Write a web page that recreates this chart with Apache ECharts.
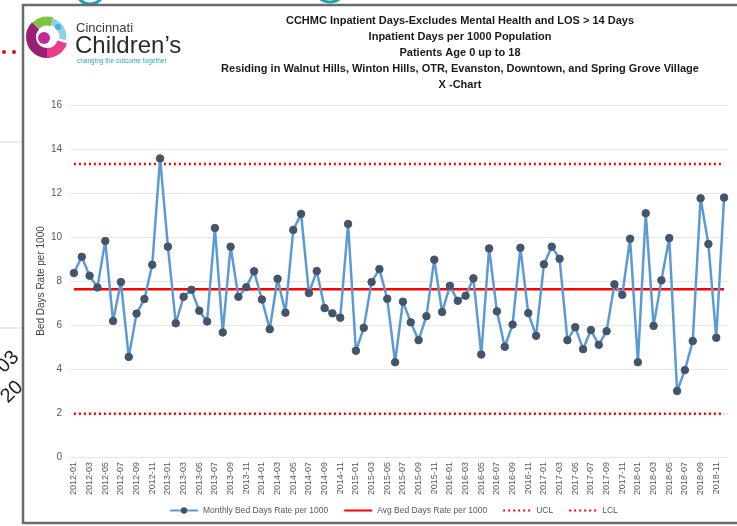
<!DOCTYPE html>
<html>
<head>
<meta charset="utf-8">
<script src="https://cdn.jsdelivr.net/npm/echarts@6/dist/echarts.min.js"></script>
<style>
  html, body { margin: 0; padding: 0; background: #fff; }
  #chart { width: 737px; height: 526px; }
</style>
</head>
<body>
<div id="chart"></div>
<script>
// months 2012-01 .. 2018-12
const years = ['2012', '2013', '2014', '2015', '2016', '2017', '2018']
const monthNums = ['01', '02', '03', '04', '05', '06', '07', '08', '09', '10', '11', '12']
const months = []
years.forEach(y => monthNums.forEach(m => months.push(y + '-' + m)))

// monthly bed days rate per 1000
const monthlyRate = [
  8.36, 9.10, 8.24, 7.71, 9.82, 6.18, 7.95, 4.55, 6.52, 7.18, 8.74, 13.57,
  9.56, 6.08, 7.28, 7.60, 6.65, 6.16, 10.41, 5.66, 9.56, 7.28, 7.72, 8.44,
  7.16, 5.81, 8.10, 6.56, 10.32, 11.05, 7.45, 8.45, 6.77, 6.53, 6.33, 10.59,
  4.83, 5.87, 7.95, 8.54, 7.19, 4.31, 7.06, 6.12, 5.31, 6.40, 8.97, 6.59,
  7.78, 7.10, 7.33, 8.12, 4.66, 9.48, 6.62, 5.01, 6.02, 9.51, 6.54, 5.51,
  8.76, 9.56, 9.01, 5.31, 5.90, 4.90, 5.77, 5.10, 5.72, 7.85, 7.37, 9.92,
  4.31, 11.08, 5.96, 8.03, 9.95, 3.00, 3.95, 5.27, 11.76, 9.68, 5.42, 11.79
]

const avgRate = 7.63
const ucl = 13.32
const lcl = 1.97

const titleLines = [
  'CCHMC Inpatient Days-Excludes Mental Health and LOS > 14 Days',
  'Inpatient Days per 1000 Population',
  'Patients Age 0 up to 18',
  'Residing in Walnut Hills, Winton Hills, OTR, Evanston, Downtown, and Spring Grove Village',
  'X -Chart'
]

const seriesNames = ['Monthly Bed Days Rate per 1000', 'Avg Bed Days Rate per 1000', 'UCL', 'LCL']

const chart = echarts.init(document.getElementById('chart'))
const font = '"Liberation Sans Narrow", "Liberation Sans", sans-serif'
const textColor = '#595959'

const flat = v => months.map(() => v)

const option = {
  animation: false,
  textStyle: { fontFamily: font },
  graphic: [
    // background bits of the slide behind the screenshot
    { type: 'arc', shape: { cx: 90, cy: -10, r: 14, startAngle: 0, endAngle: Math.PI }, style: { stroke: '#1aa3b5', lineWidth: 3, fill: null } },
    { type: 'arc', shape: { cx: 330, cy: -14, r: 16, startAngle: 0.3, endAngle: Math.PI - 0.3 }, style: { stroke: '#1aa3b5', lineWidth: 3, fill: null } },
    { type: 'circle', shape: { cx: 4, cy: 52, r: 2 }, style: { fill: '#e01010' } },
    { type: 'circle', shape: { cx: 14, cy: 52, r: 2 }, style: { fill: '#e01010' } },
    { type: 'line', shape: { x1: 0, y1: 142, x2: 22, y2: 142 }, style: { stroke: '#d8d8d8', lineWidth: 1 } },
    { type: 'line', shape: { x1: 0, y1: 328, x2: 22, y2: 328 }, style: { stroke: '#d8d8d8', lineWidth: 1 } },
    { type: 'text', x: 8, y: 362, rotation: Math.PI / 4, style: { text: '03', fontSize: 20, fill: '#222', align: 'center', verticalAlign: 'middle' } },
    { type: 'text', x: 12, y: 392, rotation: Math.PI / 4, style: { text: '20', fontSize: 20, fill: '#222', align: 'center', verticalAlign: 'middle' } },
    // frame of the screenshot
    { type: 'rect', shape: { x: 23, y: 5, width: 760, height: 518 }, style: { fill: null, stroke: '#6b6b6b', lineWidth: 2.5 } },
    // logo
    { type: 'arc', shape: { cx: 47, cy: 37, r: 16, startAngle: Math.PI * 0.45, endAngle: Math.PI * 1.25 }, style: { stroke: '#9b1d74', lineWidth: 10, fill: null } },
    { type: 'arc', shape: { cx: 47, cy: 37, r: 16, startAngle: Math.PI * 0.1, endAngle: Math.PI * 0.5 }, style: { stroke: '#e83e8c', lineWidth: 10, fill: null } },
    { type: 'arc', shape: { cx: 47, cy: 37, r: 16, startAngle: Math.PI * 1.25, endAngle: Math.PI * 1.6 }, style: { stroke: '#7dc242', lineWidth: 9, fill: null } },
    { type: 'arc', shape: { cx: 47, cy: 37, r: 16, startAngle: Math.PI * 1.6, endAngle: Math.PI * 2.05 }, style: { stroke: '#8fd3e3', lineWidth: 7, fill: null } },
    { type: 'circle', shape: { cx: 44, cy: 38, r: 6 }, style: { fill: '#c22b96' } },
    { type: 'circle', shape: { cx: 58, cy: 27, r: 3 }, style: { fill: '#3db7e4' } },
    { type: 'text', x: 76, y: 28, style: { text: 'Cincinnati', fontSize: 13, fill: '#3a3a3a', fontFamily: '"Liberation Sans", sans-serif', verticalAlign: 'middle' } },
    { type: 'text', x: 75, y: 46, style: { text: 'Children\u2019s', fontSize: 24, fill: '#2b2b2b', fontFamily: '"Liberation Sans", sans-serif', verticalAlign: 'middle' } },
    { type: 'text', x: 77, y: 61, style: { text: 'changing the outcome together', fontSize: 6.5, fill: '#2aa8c4', fontFamily: '"Liberation Sans", sans-serif', verticalAlign: 'middle' } },
    // title
    {
      type: 'text', x: 460, y: 13,
      style: {
        text: titleLines.join('\n'), fontSize: 11, fontWeight: 'bold', lineHeight: 16,
        fill: '#1a1a1a', align: 'center', verticalAlign: 'top', fontFamily: font
      }
    }
  ],
  legend: {
    bottom: 6,
    left: 164,
    itemGap: 15,
    itemWidth: 28,
    itemHeight: 8,
    textStyle: { color: textColor, fontSize: 8.5, fontFamily: font },
    data: [
      { name: seriesNames[0] },
      { name: seriesNames[1], itemStyle: { opacity: 0 } },
      { name: seriesNames[2], itemStyle: { opacity: 0 } },
      { name: seriesNames[3], itemStyle: { opacity: 0 } }
    ]
  },
  grid: { left: 70, right: 9, top: 105, bottom: 69 },
  xAxis: {
    type: 'category',
    data: months,
    boundaryGap: true,
    axisLine: { show: false },
    axisTick: { show: false },
    axisLabel: { interval: 1, rotate: 90, color: textColor, fontSize: 9, margin: 5 }
  },
  yAxis: {
    type: 'value',
    min: 0,
    max: 16,
    interval: 2,
    name: 'Bed Days Rate per 1000',
    nameLocation: 'middle',
    nameGap: 24,
    nameMoveOverlap: false,
    nameTextStyle: { color: '#404040', fontSize: 10 },
    axisLabel: { color: textColor, fontSize: 10, margin: 8 },
    splitLine: { lineStyle: { color: '#e6e6e6', width: 1 } }
  },
  series: [
    {
      name: seriesNames[0],
      type: 'line',
      data: monthlyRate,
      symbol: 'circle',
      symbolSize: 7.5,
      showAllSymbol: true,
      lineStyle: { color: '#5b9bd5', width: 2.5 },
      itemStyle: { color: '#44546a', borderColor: '#44546a' },
      z: 5
    },
    {
      name: seriesNames[1],
      type: 'line',
      data: flat(avgRate),
      symbol: 'none',
      lineStyle: { color: '#ff0000', width: 2.5 },
      itemStyle: { color: '#ff0000' },
      z: 3
    },
    {
      name: seriesNames[2],
      type: 'line',
      data: flat(ucl),
      symbol: 'none',
      lineStyle: { color: '#ff0000', width: 2.5, type: [2, 3] },
      itemStyle: { color: '#ff0000' },
      z: 3
    },
    {
      name: seriesNames[3],
      type: 'line',
      data: flat(lcl),
      symbol: 'none',
      lineStyle: { color: '#ff0000', width: 2.5, type: [2, 3] },
      itemStyle: { color: '#ff0000' },
      z: 3
    }
  ]
}

chart.setOption(option)
</script>
</body>
</html>
